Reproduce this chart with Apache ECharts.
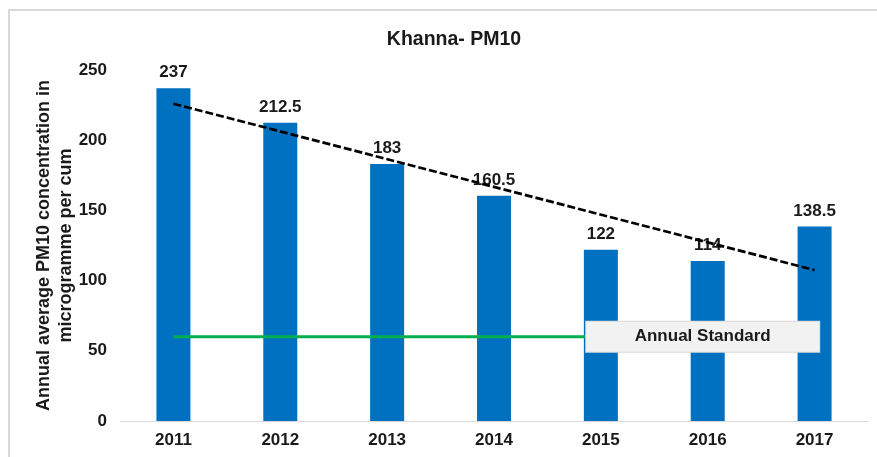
<!DOCTYPE html>
<html>
<head>
<meta charset="utf-8">
<script src="https://cdn.jsdelivr.net/npm/echarts@6/dist/echarts.min.js"></script>
<style>
html,body{margin:0;padding:0;background:#fff;}
#chart{width:877px;height:457px;}
</style>
</head>
<body>
<div id="chart"></div>
<script>
var years = ['2011','2012','2013','2014','2015','2016','2017'];
var pm10 = [237, 212.5, 183, 160.5, 122, 114, 138.5];
var trend = [226, null, null, null, null, null, 107.5];
var standard = [60, 60, 60, 60, 60, 60, 60];
var standardLabel = 'Annual Standard';
var yTicks = [0, 50, 100, 150, 200, 250];

var FONT = '"Liberation Sans", Arial, sans-serif';
var chart = echarts.init(document.getElementById('chart'));
chart.setOption({
  animation: false,
  backgroundColor: '#ffffff',
  textStyle: {fontFamily: FONT},
  title: {
    text: 'Khanna- PM10',
    left: 449, top: 25, textAlign: 'center',
    textStyle: {fontFamily: FONT, fontSize: 19.5, fontWeight: 'bold', color: '#1a1a1a'}
  },
  graphic: [{
    type: 'rect', silent: true, z: -10,
    shape: {x: 9, y: 10, width: 880, height: 460},
    style: {fill: 'none', stroke: '#d9d9d9', lineWidth: 2}
  }],
  grid: {left: 120, right: 9, top: 70, bottom: 36},
  xAxis: {
    type: 'category', data: years,
    axisLine: {show: true, lineStyle: {color: '#d9d9d9', width: 1}},
    axisTick: {show: false},
    axisLabel: {margin: 11, fontFamily: FONT, fontSize: 17, fontWeight: 'bold', color: '#1a1a1a'}
  },
  yAxis: {
    type: 'value', min: yTicks[0], max: yTicks[yTicks.length-1], interval: 50,
    name: 'Annual average PM10 concentration in\nmicrogramme per cum',
    nameLocation: 'middle', nameGap: 43, nameMoveOverlap: false,
    nameTextStyle: {fontFamily: FONT, fontSize: 18, fontWeight: 'bold', color: '#1a1a1a', lineHeight: 22},
    axisLine: {show: false}, axisTick: {show: false}, splitLine: {show: false},
    axisLabel: {margin: 13, fontFamily: FONT, fontSize: 17, fontWeight: 'bold', color: '#1a1a1a'}
  },
  series: [{
    type: 'bar', data: pm10, barWidth: 34,
    itemStyle: {color: '#0070C0'},
    label: {show: true, position: 'top', distance: 7, fontFamily: FONT, fontSize: 17, fontWeight: 'bold', color: '#1a1a1a'}
  }, {
    type: 'line', data: trend, connectNulls: true, symbol: 'none',
    lineStyle: {color: '#000000', width: 2.7, type: [8, 3]}
  }, {
    type: 'line', symbol: 'none', data: standard,
    lineStyle: {color: '#00B050', width: 3},
    markPoint: {
      symbol: 'circle', symbolSize: 0, silent: true,
      data: [{coord: [years[5], standard[5]], value: standard[5]}],
      label: {
        show: true, position: 'inside', offset: [-5, 0],
        formatter: standardLabel,
        width: 233, height: 30, align: 'center', verticalAlign: 'middle', lineHeight: 30,
        backgroundColor: '#f2f2f2', borderColor: '#d9d9d9', borderWidth: 1,
        fontFamily: FONT, fontSize: 17, fontWeight: 'bold', color: '#1a1a1a'
      }
    }
  }]
});
</script>
</body>
</html>
